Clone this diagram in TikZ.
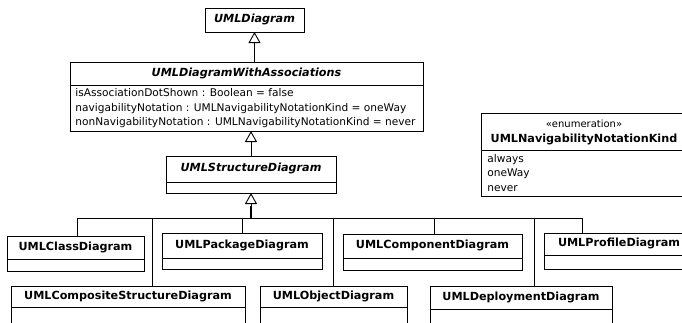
\documentclass[tikz,border=0pt]{standalone}
\usepackage{fontspec}
\setmainfont{DejaVu Sans}
\usetikzlibrary{arrows.meta}
\newcommand\umlcls[8]{%
  \node[box, minimum width=#4pt, minimum height=#5pt] (#1) at (#2,#3) {};
  \draw ([yshift=-#6pt]#1.north west) -- ([yshift=-#6pt]#1.north east);
  \node[#8] at ([yshift={-#6/2*1pt}]#1.north) {#7};
}
\begin{document}
\begin{tikzpicture}[x=1pt,y=-1pt, line width=0.9pt,
  box/.style={draw, fill=white, anchor=north west, inner sep=0pt, outer sep=0pt},
  txt/.style={inner sep=0pt, text height=8pt, text depth=2.2pt},
  ttl/.style={txt, font=\bfseries\fontsize{11.2}{13}\selectfont},
  ttli/.style={txt, font=\bfseries\itshape\fontsize{11.2}{13}\selectfont},
  att/.style={txt, font=\fontsize{10.6}{13}\selectfont, anchor=west},
  gen/.style={-{Triangle[open,length=11pt,width=12pt]}}]
\useasboundingbox[fill=white] (0,0) rectangle (682,322);
\clip (0,0) rectangle (682,322);

% UMLDiagram
\node[box, minimum width=99pt, minimum height=24pt] (diag) at (205,8) {};
\node[ttli] at (diag.center) {UMLDiagram};

% UMLDiagramWithAssociations
\umlcls{dwa}{70}{62}{353}{69}{23}{UMLDiagramWithAssociations}{ttli}
\node[att] (a1) at (75,94) {isAssociationDotShown : Boolean = false};
\node[att] (a2) at (75,109) {navigabilityNotation : UMLNavigabilityNotationKind = oneWay};
\node[att] (a3) at (75,123) {nonNavigabilityNotation : UMLNavigabilityNotationKind = never};

% UMLStructureDiagram
\umlcls{sd}{166}{156}{170}{37}{26}{UMLStructureDiagram}{ttli}

% children
\umlcls{cd}{7}{236}{137}{35}{23}{UMLClassDiagram}{ttl}
\umlcls{csd}{11}{286}{234}{50}{21}{UMLCompositeStructureDiagram}{ttl}
\umlcls{pd}{162}{233}{160}{36}{25}{UMLPackageDiagram}{ttl}
\umlcls{od}{260}{286}{147}{50}{21}{UMLObjectDiagram}{ttl}
\umlcls{cmp}{343}{234}{179}{36}{24}{UMLComponentDiagram}{ttl}
\umlcls{dep}{430}{286}{182}{50}{23}{UMLDeploymentDiagram}{ttl}
\umlcls{prof}{544}{233}{150}{36}{22}{UMLProfileDiagram}{ttl}

% enumeration
\node[box, minimum width=206pt, minimum height=83pt] (enum) at (481,113) {};
\draw ([yshift=-37pt]enum.north west) -- ([yshift=-37pt]enum.north east);
\node[att, anchor=center, font=\fontsize{10}{12}\selectfont] (st) at (584,125) {«enumeration»};
\node[ttl] (en) at (584,140) {UMLNavigabilityNotationKind};
\node[att] (l1) at (487,160) {always};
\node[att] (l2) at (487,174) {oneWay};
\node[att] (l3) at (487,189) {never};

% generalizations
\draw[gen] (diag.south |- dwa.north) -- (diag.south);
\draw[gen] (sd.north) -- (sd.north |- dwa.south);
\coordinate (j) at ([yshift=-25pt]sd.south);
\draw ([xshift=70pt]cd.north west) |- (j);
\draw ([xshift=141pt]csd.north west) |- (j);
\draw ([xshift=80pt]pd.north west) |- (j);
\draw ([xshift=73pt]od.north west) |- (j);
\draw ([xshift=91pt]cmp.north west) |- (j);
\draw ([xshift=104pt]dep.north west) |- (j);
\draw ([xshift=38pt]prof.north west) |- (j);
\draw[line width=2pt] (j) -- ++(0,-12);
\draw[gen] (j) -- (sd.south);
\end{tikzpicture}
\end{document}
